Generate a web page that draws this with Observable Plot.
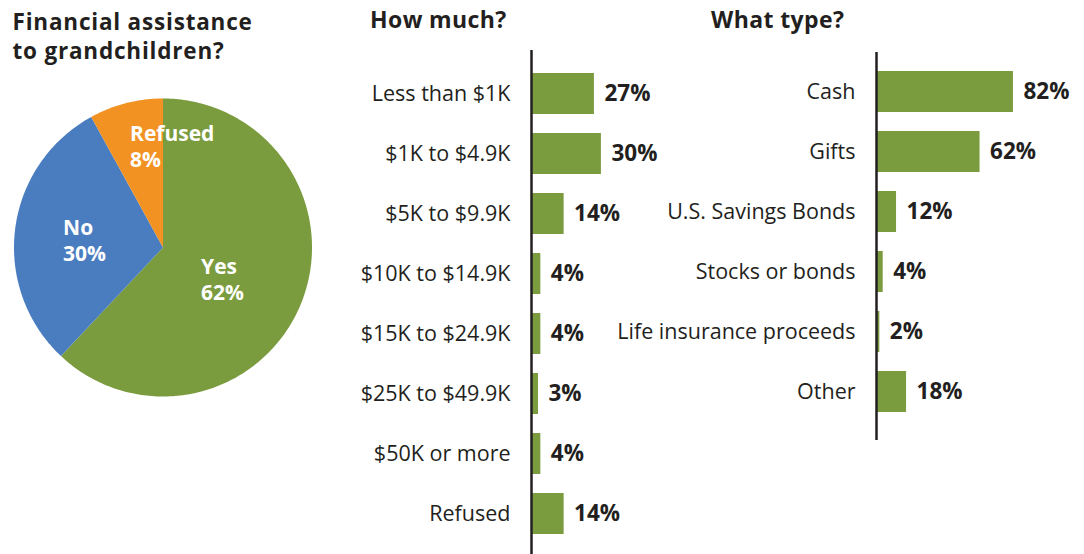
<!DOCTYPE html>
<html>
<head>
<meta charset="utf-8">
<script src="https://cdn.jsdelivr.net/npm/d3@7"></script>
<script src="https://cdn.jsdelivr.net/npm/@observablehq/plot@0.6"></script>
<style>
  html, body { margin: 0; padding: 0; background: #fff; }
  #wrap { position: relative; width: 1084px; height: 554px; overflow: hidden; font-family: "Open Sans", sans-serif; color: #231f20; }
  .title { position: absolute; font-weight: 700; font-size: 23px; line-height: 28px; letter-spacing: 0.4px; color: #231f20; white-space: nowrap; }
  .panel { position: absolute; top: 0; }
  .panel svg { overflow: visible; }
  .ttl text { letter-spacing: 0.8px; }
</style>
</head>
<body>
<div id="wrap">
  <div class="title" style="left:370px; top:5px;">How much?</div>
  <div class="title" style="left:711px; top:5px;">What type?</div>
  <div class="panel" id="pie" style="left:0px;"></div>
  <div class="panel" id="much" style="left:340px;"></div>
  <div class="panel" id="type" style="left:600px;"></div>
</div>
<script>
// ---- data ----
const pieTitle = ["Financial assistance", "to grandchildren?"];
const pieCategories = ["Yes", "No", "Refused"];
const pieValues = [62, 30, 8];
const pieColors = ["#7a9b3e", "#4a7dc0", "#f29222"];

const muchCategories = ["Less than $1K", "$1K to $4.9K", "$5K to $9.9K", "$10K to $14.9K", "$15K to $24.9K", "$25K to $49.9K", "$50K or more", "Refused"];
const muchValues = [27, 30, 14, 4, 4, 3, 4, 14];

const typeCategories = ["Cash", "Gifts", "U.S. Savings Bonds", "Stocks or bonds", "Life insurance proceeds", "Other"];
const typeValues = [82, 62, 12, 4, 2, 18];

const barColor = "#7a9b3e";
const ink = "#231f20";
const font = "'Open Sans', sans-serif";

// ---- pie ----
const arcs = d3.pie().sort(null).startAngle(0).endAngle(2 * Math.PI)(pieValues);
const piePts = [];
arcs.forEach((a, i) => {
  const cat = pieCategories[i];
  piePts.push({cat, x: 0, y: 0});
  const n = Math.max(2, Math.ceil((a.endAngle - a.startAngle) / (Math.PI / 180)));
  for (let k = 0; k <= n; k++) {
    const t = a.startAngle + (a.endAngle - a.startAngle) * k / n;
    piePts.push({cat, x: Math.sin(t), y: Math.cos(t)});
  }
});
// label placement style: radius fraction and pixel nudges
const labelStyle = {Yes: {k: 0.52, dx: -34, dy: 4}, No: {k: 0.5, dx: -26, dy: 3}, Refused: {k: 0.7, dx: -7, dy: 1}};
const pieLabels = arcs.map((a, i) => {
  const cat = pieCategories[i];
  const m = (a.startAngle + a.endAngle) / 2;
  const s = labelStyle[cat];
  return {cat, x: s.k * Math.sin(m), y: s.k * Math.cos(m), dx: s.dx, dy: s.dy, pct: `${pieValues[i]}%`};
});

const pieText = {fill: "white", fontWeight: 700, fontSize: 21, textAnchor: "start", lineAnchor: "middle"};
const titleText = {frameAnchor: "top-left", text: d => d, fill: ink, fontWeight: 700, fontSize: 22.5, textAnchor: "start", lineAnchor: "middle", dx: 12, className: "ttl"};
const pie = Plot.plot({
  width: 330, height: 554,
  margin: 0,
  x: {domain: [-1, 1], range: [13.5, 311.5], axis: null},
  y: {domain: [-1, 1], range: [396, 98], axis: null},
  color: {domain: pieCategories, range: pieColors},
  style: {fontFamily: font, background: "transparent"},
  marks: [
    Plot.text([pieTitle[0]], {...titleText, dy: 22.5}),
    Plot.text([pieTitle[1]], {...titleText, dy: 50.8}),
    Plot.line(piePts, {x: "x", y: "y", z: "cat", fill: "cat", stroke: "none", curve: "linear-closed"}),
    ...pieLabels.map(d => Plot.text([d], {x: "x", y: "y", text: "cat", dx: d.dx, dy: d.dy - 13, ...pieText})),
    ...pieLabels.map(d => Plot.text([d], {x: "x", y: "y", text: "pct", dx: d.dx, dy: d.dy + 13, ...pieText}))
  ]
});
document.getElementById("pie").appendChild(pie);

// ---- bars ----
function barPanel(cats, vals, opts) {
  const data = cats.map((c, i) => ({cat: c, value: vals[i]}));
  return Plot.plot({
    width: opts.width, height: opts.height,
    marginLeft: opts.marginLeft, marginRight: 0, marginTop: opts.marginTop, marginBottom: 0,
    x: {domain: [0, 100], range: [opts.marginLeft, opts.marginLeft + opts.pxPer100], axis: null},
    y: {domain: cats, range: opts.yRange, paddingInner: 0.31, paddingOuter: 0.155, axis: null},
    style: {fontFamily: font, background: "transparent", color: ink},
    marks: [
      Plot.barX(data, {x: "value", y: "cat", fill: barColor}),
      Plot.axisY({tickSize: 0, tickPadding: 21, fontSize: 21.5, anchor: "left", fill: ink, label: null}),
      Plot.text(data, {x: "value", y: "cat", text: d => `${d.value}%`, dx: 10, textAnchor: "start", fontWeight: 700, fontSize: 22.5, fill: ink}),
      Plot.ruleX([0], {stroke: ink, strokeWidth: 2.5})
    ]
  });
}

document.getElementById("much").appendChild(barPanel(muchCategories, muchValues, {
  width: 380, height: 560, marginLeft: 191, marginTop: 50, pxPer100: 233, yRange: [63.5, 543.5]
}));
document.getElementById("type").appendChild(barPanel(typeCategories, typeValues, {
  width: 484, height: 440, marginLeft: 276, marginTop: 52, pxPer100: 167, yRange: [62, 422]
}));
</script>
</body>
</html>
